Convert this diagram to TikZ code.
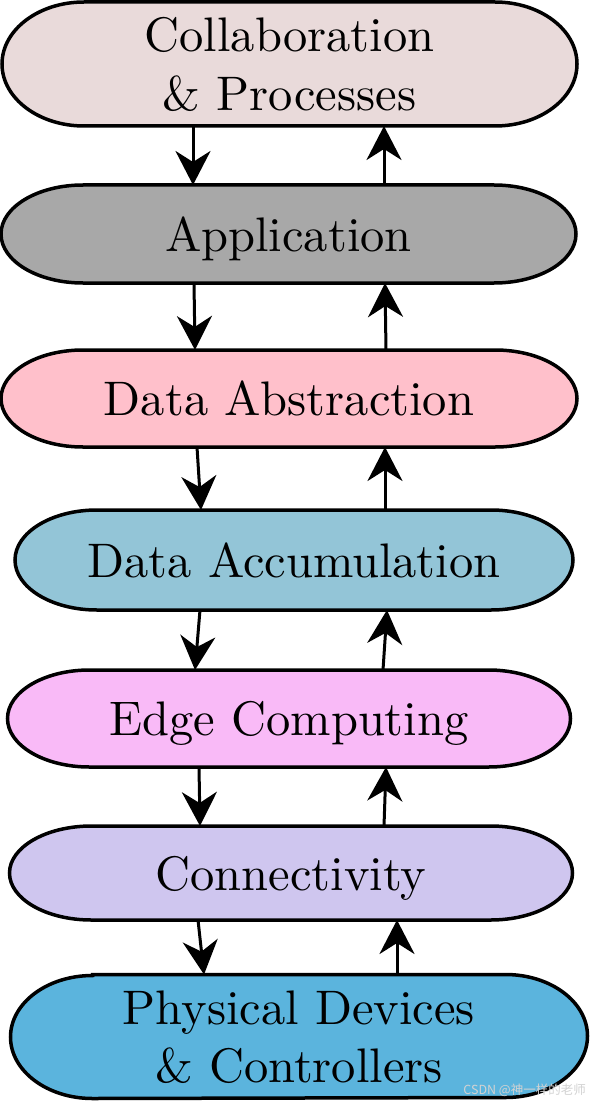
\documentclass[tikz,border=0pt]{standalone}
\usepackage{fontspec}
\usepackage{graphicx}
\newfontfamily\cjk{Noto Sans CJK SC}
\usetikzlibrary{arrows.meta,backgrounds,calc}
\definecolor{cA}{HTML}{E9DADA}
\definecolor{cB}{HTML}{A8A8A8}
\definecolor{cC}{HTML}{FFC0CB}
\definecolor{cD}{HTML}{93C5D7}
\definecolor{cE}{HTML}{F9BAF7}
\definecolor{cF}{HTML}{CFC6EF}
\definecolor{cG}{HTML}{5BB4DD}
\newcommand{\laytext}[1]{\scalebox{4.85}{#1}}
\newcommand{\laytwo}[2]{\scalebox{4.85}{\begin{tabular}{@{}c@{}}#1\\#2\end{tabular}}}
\tikzset{
  layer/.style={inner sep=0pt, outer sep=0pt, draw=none, text height=44pt, text depth=10pt},
  layertwo/.style={layer, text height=79.5pt, text depth=44.5pt},
  shell/.style={draw=black, line width=3.5pt},
  arr/.style={draw=black, line width=3pt, -{Stealth[length=34pt, width=35pt, inset=11pt]}},
}
\begin{document}
\begin{tikzpicture}[x=1pt,y=-1pt]
\useasboundingbox (0,0) rectangle (589,1102);

\node[layertwo, minimum width=575pt, minimum height=124pt] (n1) at (289.5,64) {\laytwo{Collaboration}{\& Processes}};
\node[layer, minimum width=575pt, minimum height=98pt] (n2) at (288.5,234) {\laytext{Application}};
\node[layer, minimum width=576pt, minimum height=97pt] (n3) at (289,398.5) {\laytext{Data Abstraction}};
\node[layer, minimum width=558pt, minimum height=100pt] (n4) at (294,560) {\laytext{Data Accumulation}};
\node[layer, minimum width=563pt, minimum height=97pt] (n5) at (289,718.5) {\laytext{Edge Computing}};
\node[layer, minimum width=563pt, minimum height=94pt] (n6) at (291,873) {\laytext{Connectivity}};
\node[layertwo, minimum width=577pt, minimum height=123pt] (n7) at (299,1036.5) {\laytwo{Physical Devices}{\& Controllers}};

\begin{scope}[on background layer]
\fill[white] (0,0) rectangle (589,1102);
\foreach \n/\c/\hh in {n1/cA/62, n2/cB/49, n3/cC/48.5, n4/cD/50, n5/cE/48.5, n6/cF/47, n7/cG/61.5}{
  \draw[shell, fill=\c]
    ($(\n.north west)+(82pt,0)$) -- ($(\n.north east)+(-82pt,0)$)
    arc[start angle=90, end angle=-90, x radius=82pt, y radius={\hh*1pt}]
    -- ($(\n.south west)+(82pt,0)$)
    arc[start angle=270, end angle=90, x radius=82pt, y radius={\hh*1pt}]
    -- cycle;
}
\end{scope}

% downward arrows
\draw[arr] ([xshift=-96.5pt]n1.south) -- ([xshift=-95.5pt]n2.north);
\draw[arr] ([xshift=-94.5pt]n2.south) -- ([xshift=-94pt]n3.north);
\draw[arr] ([xshift=-92pt]n3.south) -- ([xshift=-93pt]n4.north);
\draw[arr] ([xshift=-94pt]n4.south) -- ([xshift=-94pt]n5.north);
\draw[arr] ([xshift=-90pt]n5.south) -- ([xshift=-91pt]n6.north);
\draw[arr] ([xshift=-93pt]n6.south) -- ([xshift=-95pt]n7.north);
% upward arrows
\draw[arr] ([xshift=95.5pt]n2.north) -- ([xshift=94.5pt]n1.south);
\draw[arr] ([xshift=97pt]n3.north) -- ([xshift=96.5pt]n2.south);
\draw[arr] ([xshift=91pt]n4.north) -- ([xshift=96pt]n3.south);
\draw[arr] ([xshift=94pt]n5.north) -- ([xshift=93pt]n4.south);
\draw[arr] ([xshift=93pt]n6.north) -- ([xshift=97pt]n5.south);
\draw[arr] ([xshift=98pt]n7.north) -- ([xshift=106pt]n6.south);

\node[anchor=east, inner sep=0pt, text=gray!35, font=\cjk\fontsize{12.5}{14}\selectfont] (wm) at (586,1090) {CSDN @神一样的老师};
\end{tikzpicture}
\end{document}
